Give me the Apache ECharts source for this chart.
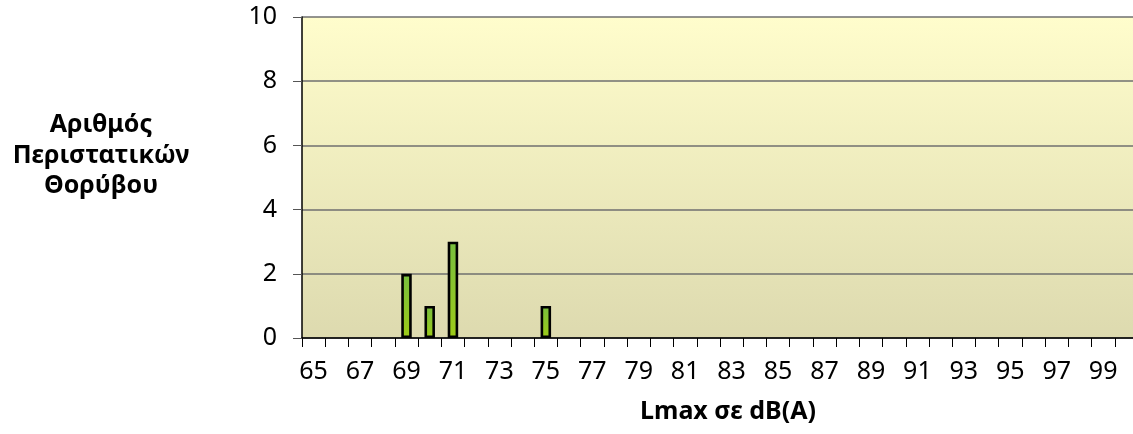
<!DOCTYPE html>
<html>
<head>
<meta charset="utf-8">
<script src="https://cdn.jsdelivr.net/npm/echarts@6/dist/echarts.min.js"></script>
<style>
html,body{margin:0;padding:0;background:#fff;}
#c{width:1133px;height:434px;}
</style>
</head>
<body>
<div id="c"></div>
<script>
const categories = ['65','66','67','68','69','70','71','72','73','74','75','76','77','78','79','80','81','82','83','84','85','86','87','88','89','90','91','92','93','94','95','96','97','98','99','100'];
const counts = [0,0,0,0,2,1,3,0,0,0,1,0,0,0,0,0,0,0,0,0,0,0,0,0,0,0,0,0,0,0,0,0,0,0,0,0];
const yTitleLines = ['Αριθμός','Περιστατικών','Θορύβου'];
const xTitle = 'Lmax σε dB(A)';

const FONT = 'Noto Sans';
const chart = echarts.init(document.getElementById('c'), null, {renderer:'canvas'});
chart.setOption({
  animation:false,
  backgroundColor:'#ffffff',
  grid:{
    left:302, top:17, width:836, height:321,
    outerBoundsMode:'none', containLabel:false,
    show:true, borderWidth:0,
    backgroundColor:{type:'linear',x:0,y:0,x2:0,y2:1,colorStops:[{offset:0,color:'#FFFDCC'},{offset:1,color:'#DDDAAF'}]}
  },
  xAxis:{
    type:'category', data:categories, boundaryGap:true,
    name:xTitle, nameLocation:'middle', nameGap:61,
    nameTextStyle:{fontFamily:FONT,fontWeight:'bold',fontSize:25,color:'#000',padding:[0,0,0,16]},
    axisLine:{show:true,lineStyle:{color:'#000',width:1.5}},
    axisTick:{show:true,interval:0,alignWithLabel:false,length:9,lineStyle:{color:'#000',width:1}},
    axisLabel:{interval:1,margin:21,fontFamily:FONT,fontSize:25,color:'#000'},
    splitLine:{show:false}
  },
  yAxis:{
    type:'value', min:0, max:10, interval:2,
    axisLine:{show:true,lineStyle:{color:'#000',width:1.5}},
    axisTick:{show:true,length:9,lineStyle:{color:'#555',width:1}},
    axisLabel:{margin:25,fontFamily:FONT,fontSize:25,color:'#000'},
    splitLine:{show:true,lineStyle:{color:'#6f6f6f',width:1.5}}
  },
  graphic:[{
    type:'text',
    style:{
      text:yTitleLines.join('\n'), x:101, y:110,
      textAlign:'center', textVerticalAlign:'top',
      font:'bold 25px "Noto Sans"', lineHeight:30.5, fill:'#000'
    }
  }],
  series:[{
    type:'bar', data:counts.map(v => v === 0 ? '-' : v), barWidth:10.5,
    itemStyle:{
      color:{type:'linear',x:0,y:0,x2:0,y2:1,colorStops:[{offset:0,color:'#78BE3E'},{offset:1,color:'#9DCB18'}]},
      borderColor:'#000', borderWidth:2.6
    }
  }]
});
</script>
</body>
</html>
